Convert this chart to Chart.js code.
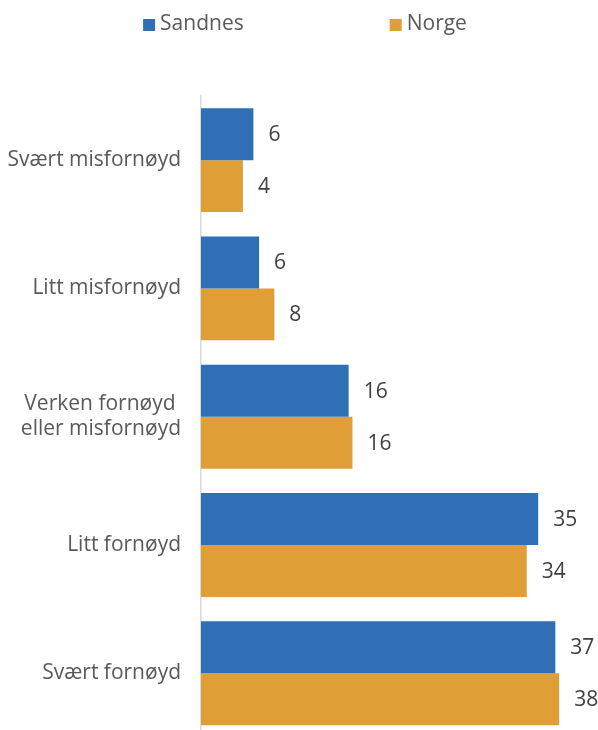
<!DOCTYPE html>
<html>
<head>
<meta charset="utf-8">
<script src="https://cdn.jsdelivr.net/npm/chart.js@4"></script>
<style>
  html, body { margin: 0; padding: 0; background: #fff; overflow: hidden; }
  canvas { display: block; }
</style>
</head>
<body>
<canvas id="myChart" width="598" height="770"></canvas>
<script>
// Data (labels are rounded values)
const categories = ['Svært misfornøyd', 'Litt misfornøyd', ['Verken fornøyd ', 'eller misfornøyd'], 'Litt fornøyd', 'Svært fornøyd'];
const sandnesValues = [5.5, 6.1, 15.5, 35.4, 37.2];
const norgeValues = [4.4, 7.7, 15.9, 34.2, 37.6];
const seriesNames = ['Sandnes', 'Norge'];
const seriesColors = ['#2E6FB5', '#DF9E36'];

const fontFamily = '"Open Sans", "Noto Sans", sans-serif';

// Value labels to the right of each bar
const valueLabels = {
    id: 'valueLabels',
    afterDatasetsDraw(chart) {
        const ctx = chart.ctx;
        ctx.save();
        ctx.font = '21px ' + fontFamily;
        ctx.fillStyle = '#404040';
        ctx.textAlign = 'left';
        ctx.textBaseline = 'middle';
        chart.data.datasets.forEach((ds, i) => {
            chart.getDatasetMeta(i).data.forEach((bar, j) => {
                ctx.fillText(Math.round(ds.data[j]), bar.x + 15, bar.y + 1);
            });
        });
        ctx.restore();
    }
};

// Legend with a wide gap between the two items
const topLegend = {
    id: 'topLegend',
    afterDraw(chart) {
        const ctx = chart.ctx;
        const box = 12, textGap = 5, itemGap = 146, y = 24;
        ctx.save();
        ctx.font = '21px ' + fontFamily;
        ctx.textBaseline = 'middle';
        const widths = chart.data.datasets.map(ds => box + textGap + ctx.measureText(ds.label).width);
        const total = widths.reduce((a, b) => a + b, 0) + itemGap * (widths.length - 1);
        let x = (chart.width - total) / 2 + 6;
        chart.data.datasets.forEach((ds, i) => {
            ctx.fillStyle = ds.backgroundColor;
            ctx.fillRect(x, y - box / 2 + 1, box, box);
            ctx.fillStyle = '#595959';
            ctx.fillText(ds.label, x + box + textGap, y);
            x += widths[i] + itemGap;
        });
        ctx.restore();
    }
};

const ctx = document.getElementById('myChart').getContext('2d');
const chart = new Chart(ctx, {
    type: 'bar',
    data: {
        labels: categories,
        datasets: [
            {
                label: seriesNames[0],
                data: sandnesValues,
                backgroundColor: seriesColors[0],
                categoryPercentage: 0.81,
                barPercentage: 1.0
            },
            {
                label: seriesNames[1],
                data: norgeValues,
                backgroundColor: seriesColors[1],
                categoryPercentage: 0.81,
                barPercentage: 1.0
            }
        ]
    },
    options: {
        indexAxis: 'y',
        responsive: false,
        animation: false,
        devicePixelRatio: 1,
        layout: {
            padding: { top: 96, right: 16, bottom: 0, left: 0 }
        },
        plugins: {
            legend: { display: false },
            tooltip: { enabled: false }
        },
        scales: {
            x: {
                display: false,
                min: 0,
                max: 40
            },
            y: {
                afterFit: scale => { scale.width = 201; },
                grid: { display: false, drawTicks: false },
                border: { display: true, color: '#d9d9d9', width: 1.5 },
                ticks: {
                    padding: 20,
                    color: '#595959',
                    font: { family: fontFamily, size: 21 }
                }
            }
        }
    },
    plugins: [valueLabels, topLegend]
});
</script>
</body>
</html>
